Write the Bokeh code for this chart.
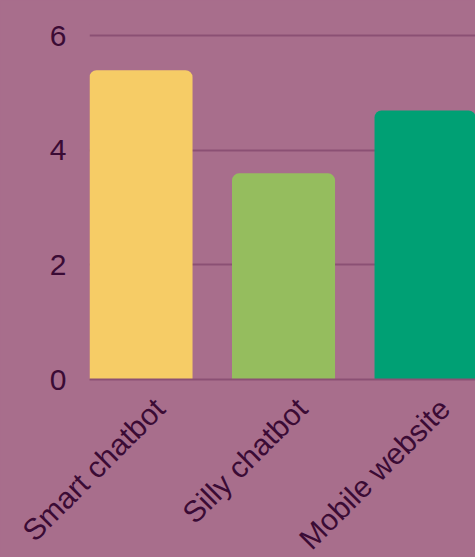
import math
from bokeh.plotting import figure
from bokeh.models import Range1d, FixedTicker, ColumnDataSource
from bokeh.embed import file_html
from bokeh.resources import INLINE

categories = ["Smart chatbot", "Silly chatbot", "Mobile website"]
values = [5.4, 3.6, 4.7]
colors = ["#f6cc66", "#95bd5e", "#00a074"]
y_ticks = [0, 2, 4, 6]

BG = "#a86e8c"
GRID = "#8b5074"
TEXT = "#3b0b35"
FONT = "Liberation Sans"
LABEL_SHIFT = 0.13

idx = list(range(len(categories)))
src = ColumnDataSource(dict(x=idx, top=values, color=colors))

p = figure(frame_width=386, frame_height=355, output_backend="svg", toolbar_location=None,
           x_range=Range1d(-0.3615, 2.347), y_range=Range1d(0, 6.2),
           min_border_left=89, min_border_right=0, min_border_top=24,
           min_border_bottom=178)
p.background_fill_color = BG
p.border_fill_color = BG
p.outline_line_color = None
p.styles = {"background-color": BG}

p.vbar(x="x", top="top", bottom=0, width=0.723, color="color", source=src,
       line_color=None, border_radius=(7, 7, 0, 0))

p.xgrid.grid_line_color = None
p.ygrid.grid_line_color = GRID
p.ygrid.grid_line_width = 2
p.ygrid.level = "underlay"

p.yaxis.ticker = FixedTicker(ticks=y_ticks)
p.yaxis.axis_line_color = None
p.yaxis.major_tick_line_color = None
p.yaxis.minor_tick_line_color = None
p.yaxis.major_tick_out = 0
p.yaxis.major_tick_in = 0
p.yaxis.major_label_standoff = 23
p.yaxis.major_label_text_font = FONT
p.yaxis.major_label_text_font_size = "30px"
p.yaxis.major_label_text_color = TEXT

tick_pos = [i + LABEL_SHIFT for i in idx]
p.xaxis.ticker = FixedTicker(ticks=tick_pos)
p.xaxis.major_label_overrides = {t: c for t, c in zip(tick_pos, categories)}
p.xaxis.axis_line_color = GRID
p.xaxis.axis_line_width = 2
p.xaxis.major_tick_line_color = None
p.xaxis.minor_tick_line_color = None
p.xaxis.major_tick_out = 0
p.xaxis.major_tick_in = 0
p.xaxis.major_label_standoff = 24
p.xaxis.major_label_orientation = math.pi / 4
p.xaxis.major_label_text_font = FONT
p.xaxis.major_label_text_font_size = "30px"
p.xaxis.major_label_text_color = TEXT

open("out.html", "w").write(file_html(p, INLINE))
